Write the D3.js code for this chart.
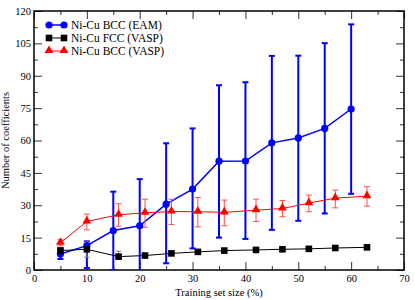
<!DOCTYPE html>
<html>
<head>
<meta charset="utf-8">
<script src="https://cdn.jsdelivr.net/npm/d3@7"></script>
<style>
  body { margin: 0; background: #fff; }
  svg text { font-family: "Liberation Serif", "DejaVu Serif", serif; }
</style>
</head>
<body>
<div id="chart"></div>
<script>
// training set size (%)
var eamX = [5, 10, 15, 20, 25, 30, 35, 40, 45, 50, 55, 60];
var eamY = [7.4, 11.3, 18.3, 20.5, 30.5, 37.5, 50.4, 50.5, 58.9, 61.2, 65.6, 74.6];
var eamLo = [5.1, 0.9, 0, -1, 3.1, 10, 15.0, 14.4, 18.6, 22.8, 26.2, 35.3];
var eamHi = [10, 13.3, 36.3, 42.1, 58.7, 65.6, 85.6, 87, 99.2, 99.3, 105.1, 113.8];

var vaspX = [5, 10, 16, 21, 26, 31, 36, 42, 47, 52, 57, 63];

var fccY = [9.0, 9.6, 6.2, 6.7, 7.7, 8.4, 9.0, 9.3, 9.6, 9.8, 10.2, 10.5];
var fccLo = [7.8, 5.9, 5.1, 5.9, 6.8, 7.5, 8.2, 8.6, 8.9, 9.1, 9.5, 9.8];
var fccHi = [10.2, 13.3, 8.7, 7.5, 8.6, 9.3, 9.8, 10.0, 10.3, 10.5, 10.9, 11.2];

var bccY = [12.6, 22.5, 25.6, 26.5, 27.1, 27, 26.7, 27.7, 28.5, 31, 33.3, 34.2];
var bccLo = [11.2, 18.6, 20.3, 19.8, 21.1, 20, 20.5, 22.5, 24.7, 27, 28.8, 29.6];
var bccHi = [14, 25.9, 30.7, 32.8, 32.8, 33.6, 32.4, 32.8, 32.2, 34.7, 37, 38.6];

var xTicks = [0, 10, 20, 30, 40, 50, 60, 70];
var yTicks = [0, 15, 30, 45, 60, 75, 90, 105, 120];

var series = [
  { name: "Ni-Cu BCC (EAM)", x: eamX, y: eamY, lo: eamLo, hi: eamHi, color: "#0000ff", err: "#0000ff", marker: "circle", ew: 2, cap: 6 },
  { name: "Ni-Cu FCC (VASP)", x: vaspX, y: fccY, lo: fccLo, hi: fccHi, color: "#000000", err: "#777777", marker: "square", ew: 1, cap: 5 },
  { name: "Ni-Cu BCC (VASP)", x: vaspX, y: bccY, lo: bccLo, hi: bccHi, color: "#ff0000", err: "#ff5050", marker: "triangle", ew: 1, cap: 6 }
];

var width = 415, height = 300;
var margin = { top: 11, right: 11, bottom: 30, left: 34 };
var iw = width - margin.left - margin.right,
    ih = height - margin.top - margin.bottom;

var svg = d3.select("#chart").append("svg")
  .attr("width", width).attr("height", height);

var g = svg.append("g")
  .attr("transform", "translate(" + margin.left + "," + margin.top + ")");

var x = d3.scaleLinear().domain([0, 70]).range([0, iw]);
var y = d3.scaleLinear().domain([0, 120]).range([ih, 0]);

svg.append("defs").append("clipPath").attr("id", "clip")
  .append("rect").attr("width", iw).attr("height", ih);

// ticks on all four sides, pointing inward
function drawTicks(axisFn, scale, transform, major, minorVals, size) {
  var a = g.append("g").attr("transform", transform)
    .call(axisFn(scale).tickValues(minorVals).tickSize(size / 2).tickSizeOuter(0).tickFormat(""));
  a.select(".domain").remove();
  a.selectAll("line").attr("stroke", "#333");
  var b = g.append("g").attr("transform", transform)
    .call(axisFn(scale).tickValues(major).tickSize(size).tickSizeOuter(0));
  b.select(".domain").remove();
  b.selectAll("line").attr("stroke", "#333");
  return b;
}
var xMinor = d3.range(5, 70, 10), yMinor = d3.range(7.5, 120, 15);

var bx = drawTicks(d3.axisBottom, x, "translate(0," + ih + ")", xTicks, xMinor, -8);
bx.selectAll("text").attr("y", 5).attr("font-size", 10.5).attr("fill", "#000");
var tx = drawTicks(d3.axisTop, x, "translate(0,0)", xTicks, xMinor, -8);
tx.selectAll("text").remove();
var ly = drawTicks(d3.axisLeft, y, "translate(0,0)", yTicks, yMinor, -8);
ly.selectAll("text").attr("x", -3).attr("font-size", 10.5).attr("fill", "#000");
var ry = drawTicks(d3.axisRight, y, "translate(" + iw + ",0)", yTicks, yMinor, -8);
ry.selectAll("text").remove();

g.append("rect").attr("width", iw).attr("height", ih)
  .attr("fill", "none").attr("stroke", "#000").attr("stroke-width", 1.5);

var plot = g.append("g").attr("clip-path", "url(#clip)");

var line = d3.line().x(function(d) { return x(d[0]); }).y(function(d) { return y(d[1]); });

series.forEach(function(s) {
  var pts = s.x.map(function(v, i) { return [v, s.y[i], s.lo[i], s.hi[i]]; });
  var eg = plot.append("g").attr("stroke", s.err).attr("stroke-width", s.ew).attr("fill", "none");
  pts.forEach(function(p) {
    var cx = x(p[0]);
    eg.append("line").attr("x1", cx).attr("x2", cx).attr("y1", y(p[2])).attr("y2", y(p[3]));
    [p[2], p[3]].forEach(function(v) {
      eg.append("line").attr("x1", cx - s.cap / 2).attr("x2", cx + s.cap / 2)
        .attr("y1", y(v)).attr("y2", y(v));
    });
  });
  plot.append("path").datum(pts).attr("d", line)
    .attr("fill", "none").attr("stroke", s.color).attr("stroke-width", s.marker === "circle" ? 1.5 : 1);
});

function marker(sel, type, color, cx, cy) {
  if (type === "circle") {
    sel.append("circle").attr("cx", cx).attr("cy", cy).attr("r", 3.6).attr("fill", color);
  } else if (type === "square") {
    sel.append("rect").attr("x", cx - 3.3).attr("y", cy - 3.3).attr("width", 6.6).attr("height", 6.6).attr("fill", color);
  } else {
    sel.append("path").attr("d", d3.symbol(d3.symbolTriangle, 34)())
      .attr("transform", "translate(" + cx + "," + (cy - 0.5) + ")").attr("fill", color);
  }
}

series.forEach(function(s) {
  s.x.forEach(function(v, i) { marker(plot, s.marker, s.color, x(v), y(s.y[i])); });
});

// legend
var leg = g.append("g").attr("transform", "translate(12,14)");
series.forEach(function(s, i) {
  var row = leg.append("g").attr("transform", "translate(0," + (i * 13) + ")");
  row.append("line").attr("x1", 3).attr("x2", 18).attr("stroke", s.color).attr("stroke-width", s.marker === "circle" ? 1.5 : 1);
  marker(row, s.marker, s.color, 3, 0);
  marker(row, s.marker, s.color, 18, 0);
  row.append("text").attr("x", 25).attr("y", 4).attr("font-size", 11.5).text(s.name);
});

// axis titles
svg.append("text").attr("x", margin.left + iw / 2).attr("y", height - 4)
  .attr("text-anchor", "middle").attr("font-size", 10.5).text("Training set size (%)");
svg.append("text").attr("transform", "translate(9," + (margin.top + ih / 2) + ") rotate(-90)")
  .attr("text-anchor", "middle").attr("font-size", 10.5).text("Number of coefficients");
</script>
</body>
</html>
